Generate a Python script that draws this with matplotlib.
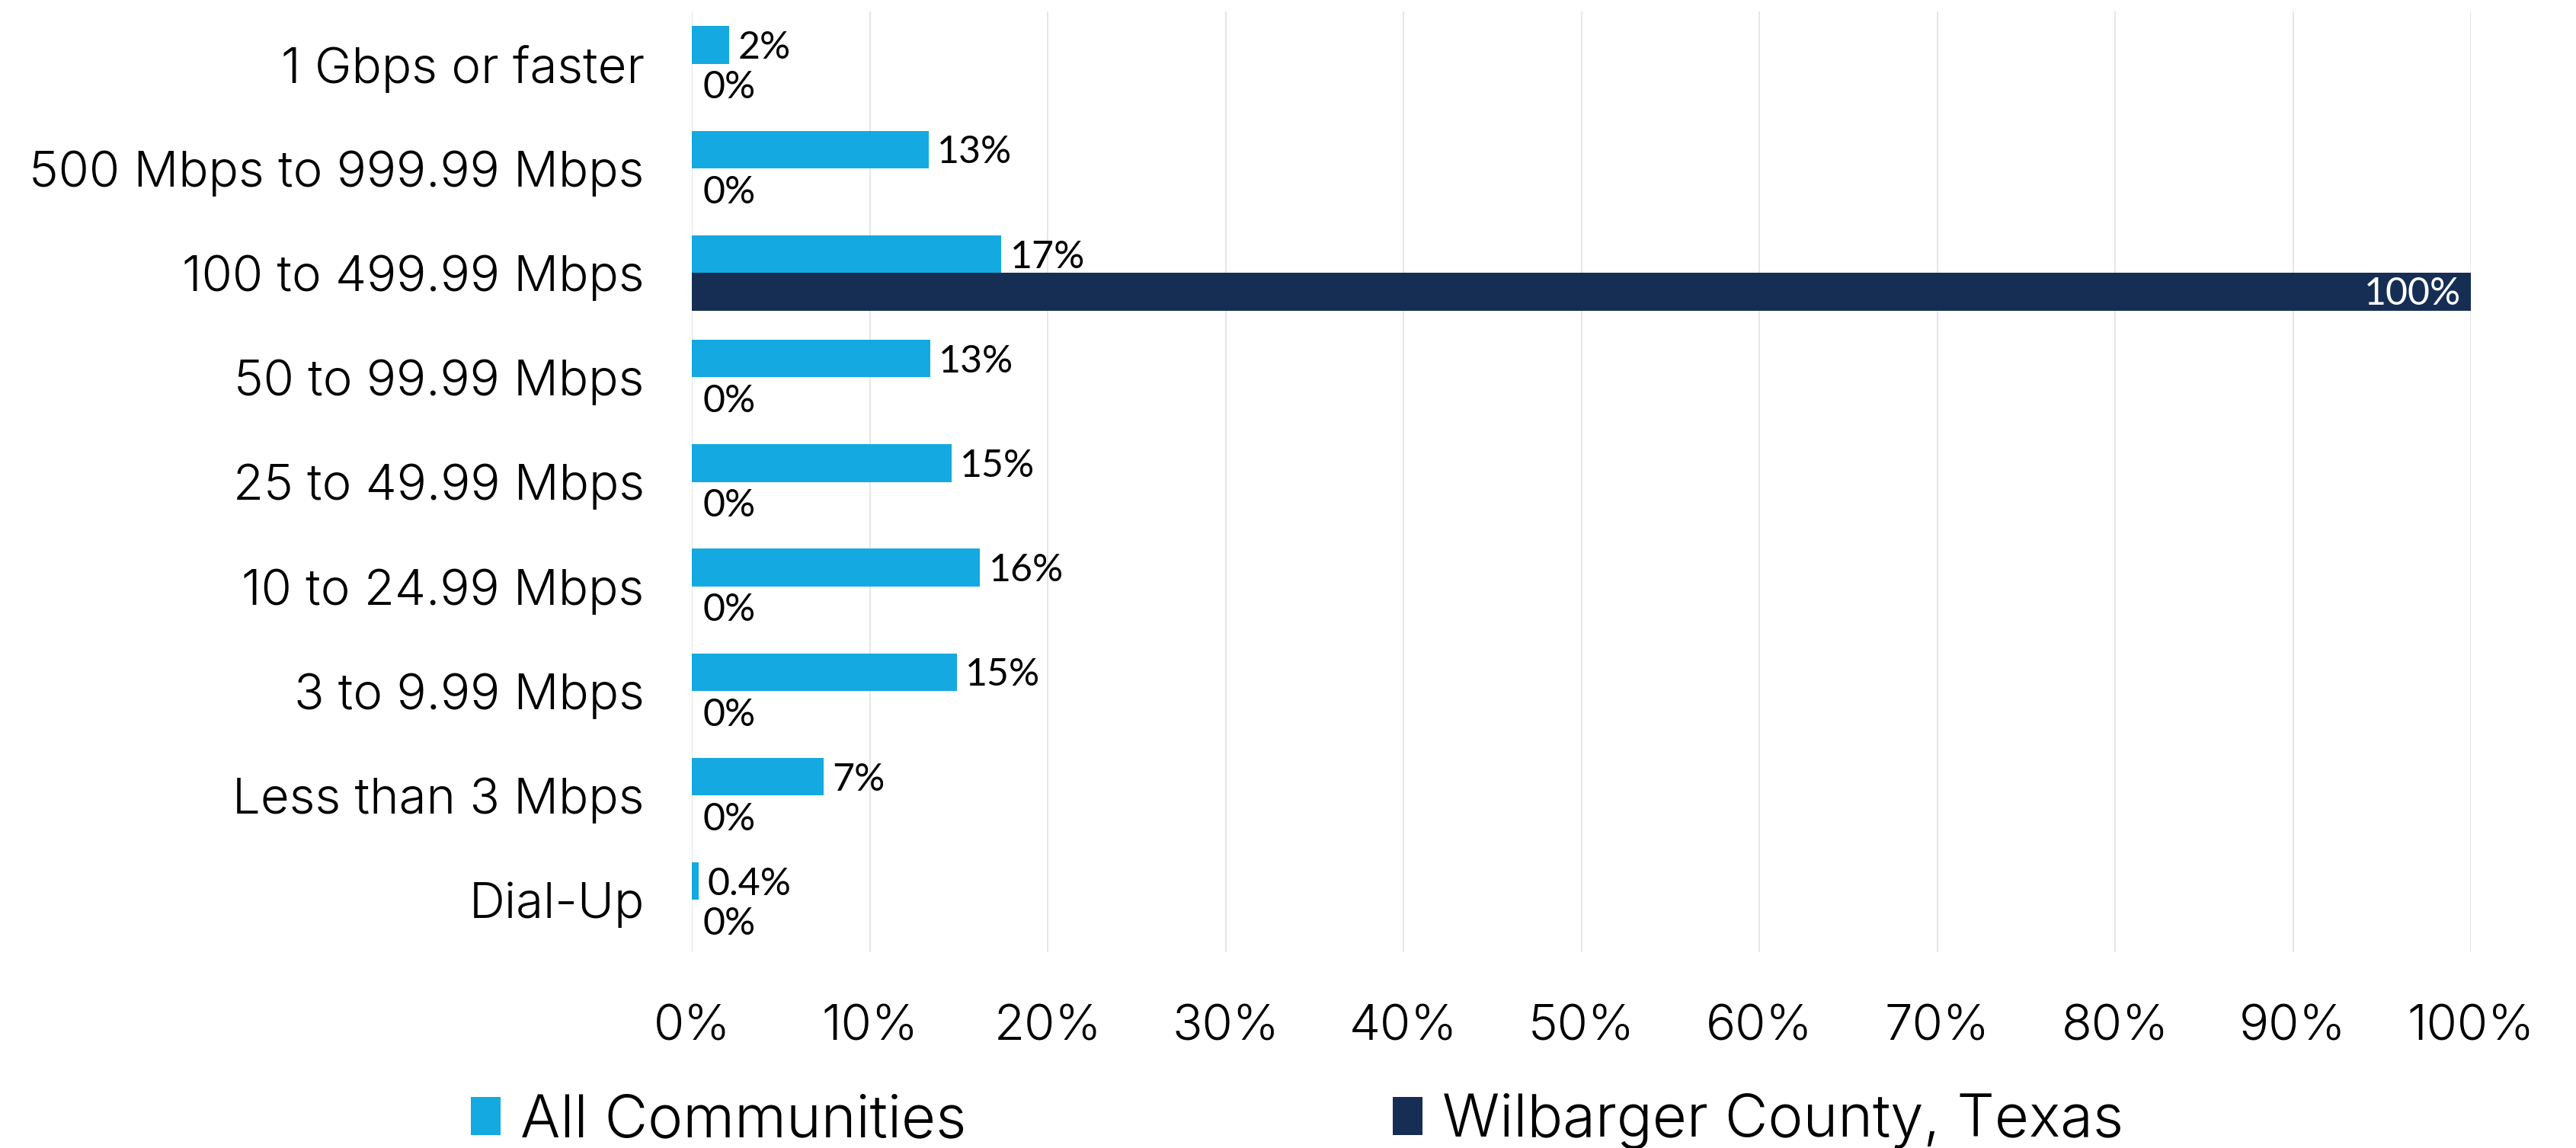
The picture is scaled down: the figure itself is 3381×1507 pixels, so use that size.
import numpy as np
import matplotlib
matplotlib.use("Agg")
import matplotlib.pyplot as plt
from matplotlib.ticker import PercentFormatter

plt.rcParams['font.family'] = ['Inter', 'DejaVu Sans']
plt.rcParams['font.weight'] = 300

categories = ['1 Gbps or faster', '500 Mbps to 999.99 Mbps', '100 to 499.99 Mbps',
              '50 to 99.99 Mbps', '25 to 49.99 Mbps', '10 to 24.99 Mbps',
              '3 to 9.99 Mbps', 'Less than 3 Mbps', 'Dial-Up']
all_communities = [2.1, 13.3, 17.4, 13.4, 14.6, 16.2, 14.9, 7.4, 0.4]
wilbarger = [0, 0, 100, 0, 0, 0, 0, 0, 0]
series_names = ['All Communities', 'Wilbarger County, Texas']

BLUE = '#14a9e0'
NAVY = '#162e54'
LABEL_FONT = dict(family=['Lato', 'DejaVu Sans'], weight='normal', fontsize=36)


def fmt(v):
    if 0 < v < 1:
        return '%.1f%%' % v
    return '%d%%' % round(v)


fig = plt.figure(figsize=(33.81, 15.07), dpi=100)
ax = fig.add_axes([0.2686, 0.1705, 0.6906, 0.8195])

y = np.arange(len(categories))
h = 0.36
b1 = ax.barh(y - h / 2, all_communities, height=h, color=BLUE, label=series_names[0])
b2 = ax.barh(y + h / 2, wilbarger, height=h, color=NAVY, label=series_names[1])

# value labels, nudged a bit down so the digits sit on the bar centre
for rect, v in zip(b1, all_communities):
    ax.annotate(fmt(v), (rect.get_width(), rect.get_y() + rect.get_height() / 2),
                xytext=(8, -3), textcoords='offset points', va='center', ha='left',
                color='black', **LABEL_FONT)
for rect, v in zip(b2, wilbarger):
    cy = rect.get_y() + rect.get_height() / 2
    if v >= 50:
        ax.annotate(fmt(v), (rect.get_width(), cy), xytext=(-9, -2),
                    textcoords='offset points', va='center', ha='right',
                    color='white', **LABEL_FONT)
    else:
        ax.annotate(fmt(v), (rect.get_width(), cy), xytext=(10, -5),
                    textcoords='offset points', va='center', ha='left',
                    color='black', **LABEL_FONT)

ax.set_xlim(0, 100)
ax.set_ylim(len(categories) - 0.5, -0.5)
ax.set_xticks(np.arange(0, 101, 10))
ax.xaxis.set_major_formatter(PercentFormatter(decimals=0))
ax.set_yticks(y)
ax.set_yticklabels(categories)
ax.tick_params(axis='both', length=0, colors='black')
ax.tick_params(axis='y', pad=45, labelsize=47)
ax.tick_params(axis='x', pad=49, labelsize=47)
ax.grid(axis='x', color='#e2e2e2', linewidth=1.2)
ax.set_axisbelow(True)
for s in ax.spines.values():
    s.set_visible(False)

fig.legend(handles=[b1, b2], labels=series_names, loc='center',
           bbox_to_anchor=(0.5035, 0.023), ncol=2, frameon=False, fontsize=56,
           handlelength=0.5, handleheight=0.6, handletextpad=0.33,
           columnspacing=7.2)

fig.savefig('out.png', dpi=100)
